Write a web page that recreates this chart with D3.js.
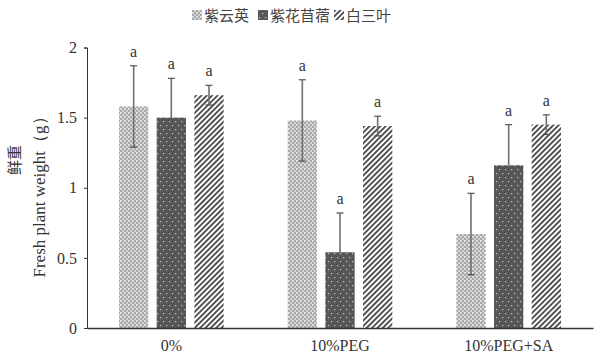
<!DOCTYPE html>
<html>
<head>
<meta charset="utf-8">
<script src="https://cdn.jsdelivr.net/npm/d3@7"></script>
<style>
  html, body { margin: 0; padding: 0; background: #fff; }
  svg { display: block; }
</style>
</head>
<body>
<svg id="chart" width="605" height="360"></svg>
<script>
// Treatments along the x axis
const categories = ["0%", "10%PEG", "10%PEG+SA"];
// Clover species (legend order)
const seriesNames = ["紫云英", "紫花苜蓿", "白三叶"];
// Mean fresh weight (g), one array per species, in treatment order
const valZiyunying = [1.58, 1.48, 0.67];
const valZihuamuxu = [1.50, 0.54, 1.16];
const valBaisanye  = [1.66, 1.44, 1.45];
// Standard deviation for each mean
const errZiyunying = [0.29, 0.29, 0.29];
const errZihuamuxu = [0.28, 0.28, 0.29];
const errBaisanye  = [0.07, 0.07, 0.07];
// Significance letters
const sigLetters = [["a","a","a"],["a","a","a"],["a","a","a"]];
const yTicks = [0, 0.5, 1, 1.5, 2];
const yTickLabels = ["0", "0.5", "1", "1.5", "2"];

const values = [valZiyunying, valZihuamuxu, valBaisanye];
const errors = [errZiyunying, errZihuamuxu, errBaisanye];

const svg = d3.select("#chart");
const plot = { left: 87, right: 593, top: 47.5, bottom: 328 };

// Fill patterns for the three species
const defs = svg.append("defs");
const p1 = defs.append("pattern").attr("id", "pat0").attr("patternUnits", "userSpaceOnUse")
  .attr("width", 4).attr("height", 4);
p1.append("rect").attr("width", 4).attr("height", 4).attr("fill", "#a9a9a9");
p1.append("rect").attr("x", 0).attr("y", 0).attr("width", 2).attr("height", 2).attr("fill", "#d2d2d2");
p1.append("rect").attr("x", 2).attr("y", 2).attr("width", 2).attr("height", 2).attr("fill", "#d2d2d2");
p1.append("rect").attr("x", 0).attr("y", 0).attr("width", 1).attr("height", 1).attr("fill", "#f2f2f2");

const p2 = defs.append("pattern").attr("id", "pat1").attr("patternUnits", "userSpaceOnUse")
  .attr("width", 6).attr("height", 8);
p2.append("rect").attr("width", 6).attr("height", 8).attr("fill", "#565656");
p2.append("rect").attr("x", 1).attr("y", 1).attr("width", 1.2).attr("height", 1.2).attr("fill", "#c8c8c8");
p2.append("rect").attr("x", 4).attr("y", 5).attr("width", 1.2).attr("height", 1.2).attr("fill", "#c8c8c8");

const p3 = defs.append("pattern").attr("id", "pat2").attr("patternUnits", "userSpaceOnUse")
  .attr("width", 3.8).attr("height", 3.8).attr("patternTransform", "rotate(45)");
p3.append("rect").attr("width", 3.8).attr("height", 3.8).attr("fill", "#ffffff");
p3.append("rect").attr("x", 0).attr("y", 0).attr("width", 1.9).attr("height", 3.8).attr("fill", "#505050");

// Scales
const x0 = d3.scaleBand().domain(categories).range([plot.left, plot.right]).padding(0);
const x1 = d3.scaleBand().domain(d3.range(seriesNames.length))
  .range([0, x0.bandwidth()]).paddingInner(0.223).paddingOuter(0.85);
const y = d3.scaleLinear().domain([0, 2]).range([plot.bottom, plot.top]);

// Y axis
const yAxis = svg.append("g").attr("transform", `translate(${plot.left},0)`)
  .call(d3.axisLeft(y).tickValues(yTicks).tickFormat((d, i) => yTickLabels[i]).tickSize(3).tickPadding(7));
yAxis.select(".domain").attr("stroke", "#333").attr("stroke-width", 1);
yAxis.selectAll(".tick line").attr("stroke", "#333");
yAxis.selectAll(".tick text").attr("font-family", "'Liberation Serif', 'DejaVu Serif', serif")
  .attr("font-size", 16).attr("fill", "#333");

const groups = svg.append("g");
const sIdx = d3.range(seriesNames.length);

// Error bar drawing helper
function drawErr(g, s, c, ci) {
  const cx = x0(c) + x1(s) + x1.bandwidth() / 2;
  const v = values[s][ci], e = errors[s][ci];
  const yt = y(v + e), yb = y(v - e);
  g.append("line").attr("x1", cx).attr("x2", cx).attr("y1", yt).attr("y2", yb)
    .attr("stroke", "#707070").attr("stroke-width", 1.6);
  g.append("line").attr("x1", cx - 3.5).attr("x2", cx + 3.5).attr("y1", yt).attr("y2", yt)
    .attr("stroke", "#606060").attr("stroke-width", 1.3);
  g.append("line").attr("x1", cx - 3.5).attr("x2", cx + 3.5).attr("y1", yb).attr("y2", yb)
    .attr("stroke", "#505050").attr("stroke-width", 1.3);
}

categories.forEach((c, ci) => {
  sIdx.forEach(s => {
    // dark bars sit over their own error bar, hiding its lower half
    if (s === 1) drawErr(groups, s, c, ci);
    groups.append("rect")
      .attr("x", x0(c) + x1(s))
      .attr("y", y(values[s][ci]))
      .attr("width", x1.bandwidth())
      .attr("height", y(0) - y(values[s][ci]))
      .attr("fill", `url(#pat${s})`);
    if (s !== 1) drawErr(groups, s, c, ci);
    groups.append("text")
      .attr("x", x0(c) + x1(s) + x1.bandwidth() / 2)
      .attr("y", y(values[s][ci] + errors[s][ci]) - 9)
      .attr("text-anchor", "middle")
      .attr("font-family", "'Liberation Serif', serif")
      .attr("font-size", 16).attr("fill", "#333")
      .text(sigLetters[ci][s]);
  });
});

// X axis
const xAxis = svg.append("g").attr("transform", `translate(0,${plot.bottom})`)
  .call(d3.axisBottom(x0).tickSize(0).tickPadding(12));
xAxis.select(".domain").attr("stroke", "#333").attr("stroke-width", 1.3);
xAxis.selectAll(".tick text").attr("font-family", "'Liberation Serif', serif")
  .attr("font-size", 16).attr("fill", "#333");

// Y axis title
svg.append("text")
  .attr("transform", "translate(20,160) rotate(-90)")
  .attr("text-anchor", "middle")
  .attr("font-family", "'Noto Sans CJK SC', sans-serif")
  .attr("font-size", 15).attr("fill", "#333")
  .text("鲜重");
svg.append("text")
  .attr("transform", "translate(45,193) rotate(-90)")
  .attr("text-anchor", "middle")
  .attr("font-family", "'Liberation Serif', serif")
  .attr("font-size", 17).attr("fill", "#333")
  .text("Fresh plant weight（g）");

// Legend
const legendX = [192, 258, 334];
const legend = svg.append("g");
seriesNames.forEach((n, i) => {
  legend.append("rect").attr("x", legendX[i]).attr("y", 10).attr("width", 10).attr("height", 10)
    .attr("fill", `url(#pat${i})`);
  legend.append("text").attr("x", legendX[i] + 12).attr("y", 21)
    .attr("font-family", "'Noto Sans CJK SC', sans-serif")
    .attr("font-size", 15).attr("fill", "#444")
    .text(n);
});
</script>
</body>
</html>
